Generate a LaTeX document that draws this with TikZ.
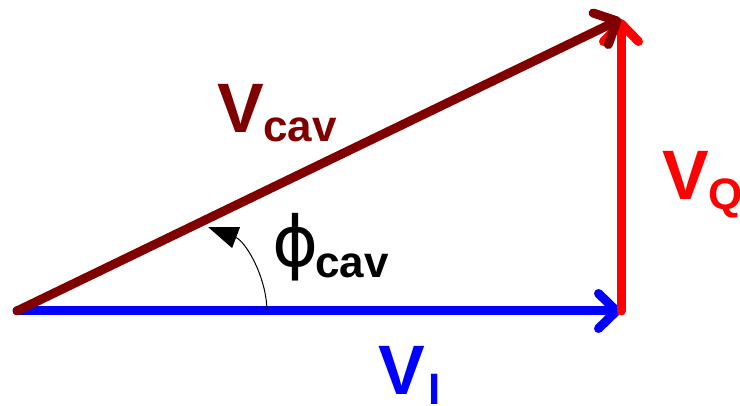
\documentclass[tikz,border=0pt]{standalone}
\usepackage{fontspec}
\setmainfont{Liberation Sans}
\newfontfamily\phifont{DejaVu Sans}
\usetikzlibrary{arrows.meta}
\definecolor{vdark}{HTML}{800000}
\begin{document}
\begin{tikzpicture}[x=1pt,y=-1pt,
  vec/.style={line width=9pt, line cap=round,
    -{Straight Barb[length=18pt,width=35pt,round]}},
  big/.style={anchor=base west, inner sep=0pt, font=\fontsize{70}{70}\selectfont\bfseries},
  sub/.style={anchor=base west, inner sep=0pt, font=\fontsize{44}{44}\selectfont\bfseries}]
\useasboundingbox (0,0) rectangle (740,406);
\coordinate (O) at (17,311);
\coordinate (I) at (621,311);
\coordinate (Q) at (621,19);
\coordinate (A1) at (267,310);
\coordinate (A2) at (208,227);
\draw[vec, blue] (O) -- (I);
\draw[vec, red] (I) -- (Q);
\draw[vec, vdark] (O) -- (Q);
\draw[line width=1pt, -{Triangle[length=30pt,width=22pt]}] (A1) .. controls (266,275) and (245,241) .. (A2);
\node[big, text=vdark] (vc) at (217,133) {V};
\node[sub, text=vdark] (vcs) at (263,142) {cav};
\node[big, text=red] (vq) at (662,200) {V};
\node[sub, text=red] (vqs) at (708,210) {Q};
\node[big, text=blue] (vi) at (378,395) {V};
\node[sub, text=blue] (vis) at (428,405) {I};
\node[anchor=base west, inner sep=0pt, font=\fontsize{70}{70}\selectfont\phifont] (phi) at (272,267) {ϕ};
\node[sub] (phis) at (315,278) {cav};
\end{tikzpicture}
\end{document}
